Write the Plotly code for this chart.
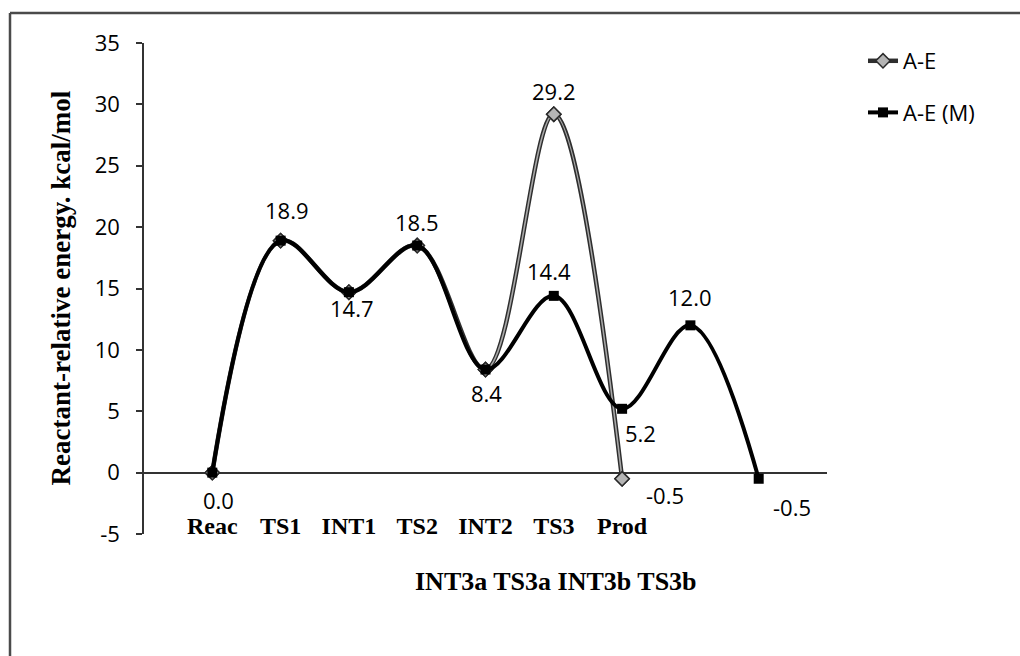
import plotly.graph_objects as go

# Reaction path stages (category labels) and energies in kcal/mol
stages = ["Reac", "TS1", "INT1", "TS2", "INT2", "TS3", "Prod"]
stages_extra = ["INT3a", "TS3a", "INT3b", "TS3b"]
energy_ae = [0.0, 18.9, 14.7, 18.5, 8.4, 29.2, -0.5]
energy_ae_m = [0.0, 18.9, 14.7, 18.5, 8.4, 14.4, 5.2, 12.0, -0.5]
y_ticks = [-5, 0, 5, 10, 15, 20, 25, 30, 35]

x_ae = list(range(1, len(energy_ae) + 1))
x_ae_m = list(range(1, len(energy_ae_m) + 1))

W, H = 1020, 656
L, R, T, B = 144, 193, 43, 122
plot_w = W - L - R
plot_h = H - T - B

sans = "Open Sans"
serif = "Liberation Serif"

fig = go.Figure()

# A-E: dark outline with a light grey core drawn on top
fig.add_trace(go.Scatter(
    x=x_ae, y=energy_ae, mode="lines+markers", name="A-E",
    line=dict(color="#2e2e2e", width=4.5, shape="spline"),
    marker=dict(symbol="diamond", size=11, color="#b5b5b5", line=dict(color="#2a2a2a", width=1.5)),
    legendgroup="a"))
fig.add_trace(go.Scatter(
    x=x_ae, y=energy_ae, mode="lines+markers",
    line=dict(color="#a8a8a8", width=1.6, shape="spline"),
    marker=dict(symbol="diamond", size=11, color="#b5b5b5", line=dict(color="#2a2a2a", width=1.5)),
    showlegend=False, hoverinfo="skip", legendgroup="a"))
# A-E (M)
fig.add_trace(go.Scatter(
    x=x_ae_m, y=energy_ae_m, mode="lines+markers", name="A-E (M)",
    line=dict(color="#000000", width=4, shape="spline"),
    marker=dict(symbol="square", size=10, color="#000000"),
    legendgroup="b"))

# data label offsets in px (dx, dy; dy positive = up)
label_offsets_m = [(6, -27), (6, 31), (3, -16), (0, 24), (1, -23), (-5, 25), (18, -24), (0, 28), (33, -28)]
label_offsets_ae = {5: (0, 23), 6: (43, -16)}

annotations = []
for i, v in enumerate(energy_ae_m):
    dx, dy = label_offsets_m[i]
    annotations.append(dict(x=x_ae_m[i], y=v, xref="x", yref="y", text=f"{v:.1f}", showarrow=False,
                            xshift=dx, yshift=dy, font=dict(family=sans, size=22, color="black")))
for i, (dx, dy) in label_offsets_ae.items():
    v = energy_ae[i]
    annotations.append(dict(x=x_ae[i], y=v, xref="x", yref="y", text=f"{v:.1f}", showarrow=False,
                            xshift=dx, yshift=dy, font=dict(family=sans, size=22, color="black")))

# second row of stage names
annotations.append(dict(x=(556 - L) / plot_w, y=-(581 - (T + plot_h)) / plot_h, xref="paper", yref="paper",
                        text=" ".join(stages_extra), showarrow=False, xanchor="center", yanchor="middle",
                        font=dict(family=serif, size=26, color="black", weight="bold")))
# y-axis title
annotations.append(dict(x=(60 - L) / plot_w, y=0.5, xref="paper", yref="paper",
                        text="<b>Reactant-relative energy. kcal/mol</b>", textangle=-90, showarrow=False,
                        xanchor="center", yanchor="middle",
                        font=dict(family=serif, size=27, color="black")))

# chart frame (left and top edges)
fx = (10 - L) / plot_w
fy = 1 + (T - 13) / plot_h
shapes = [
    dict(type="line", xref="paper", yref="paper", x0=fx, x1=fx, y0=-0.3, y1=fy,
         line=dict(color="#4a4a4a", width=2.5)),
    dict(type="line", xref="paper", yref="paper", x0=fx, x1=1.4, y0=fy, y1=fy,
         line=dict(color="#4a4a4a", width=2.5)),
]

fig.update_layout(
    width=W, height=H,
    margin=dict(l=L, r=R, t=T, b=B),
    paper_bgcolor="white", plot_bgcolor="white",
    showlegend=True,
    legend=dict(x=(863 - L) / plot_w, y=1 + (T - 40) / plot_h, xanchor="left", yanchor="top",
                font=dict(family=sans, size=22, color="black"), tracegroupgap=20,
                bgcolor="rgba(0,0,0,0)"),
    annotations=annotations,
    shapes=shapes,
)

fig.update_xaxes(range=[0, 10], showgrid=False, zeroline=False, showline=False, ticks="",
                 tickmode="array", tickvals=list(range(1, len(stages) + 1)), ticktext=stages,
                 tickfont=dict(family=serif, size=24, color="black", weight="bold"),
                 ticklabelstandoff=-25)
fig.update_yaxes(range=[-5, 35], tickmode="array", tickvals=y_ticks, ticktext=[str(t) for t in y_ticks],
                 showgrid=False,
                 zeroline=True, zerolinecolor="#333333", zerolinewidth=1.5,
                 showline=True, linecolor="#333333", linewidth=1.5,
                 ticks="outside", ticklen=6, tickcolor="#333333", tickwidth=1.5,
                 tickfont=dict(family=sans, size=22, color="black"), ticklabelstandoff=12)

fig.write_html("out.html")
